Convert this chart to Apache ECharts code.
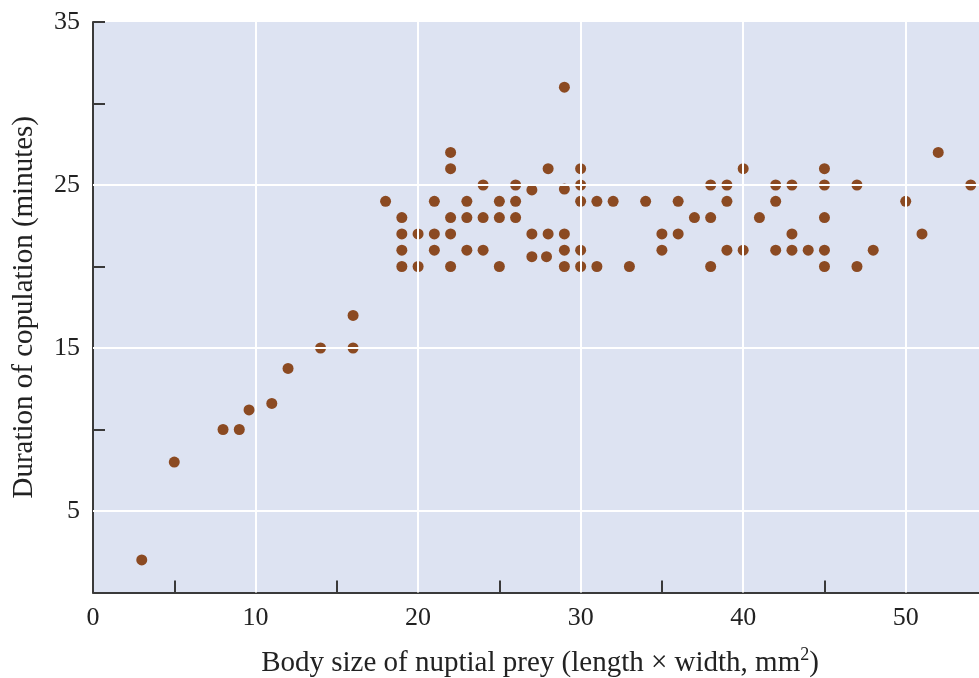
<!DOCTYPE html>
<html>
<head>
<meta charset="utf-8">
<script src="https://cdn.jsdelivr.net/npm/echarts@6/dist/echarts.min.js"></script>
<style>
html,body{margin:0;padding:0;background:#fff;}
#c{width:979px;height:678px;}
</style>
</head>
<body>
<div id="c"></div>
<script>
// Body size of nuptial prey (mm^2)
var preySize = [3,5,8,9,9.6,11,12,14,16,16,
  18,19,19,19,19,20,20,21,21,21,22,22,22,22,22,
  23,23,23,24,24,24,25,25,25,26,26,26,27,27,27,
  28,28,27.9,29,29,29,29,29,30,30,30,30,30,31,31,32,33,34,
  35,35,36,36,37,38,38,38,39,39,39,40,40,41,42,42,42,
  43,43,43,44,45,45,45,45,45,47,47,48,50,51,52,54];
// Duration of copulation (minutes)
var duration = [2,8,10,10,11.2,11.6,13.75,15,15,17,
  24,23,22,21,20,22,20,24,22,21,27,26,23,22,20,
  24,23,21,25,23,21,24,23,20,25,24,23,24.7,22,20.6,
  26,22,20.6,31,24.75,22,21,20,26,25,24,21,20,24,20,24,20,24,
  22,21,24,22,23,25,23,20,25,24,21,26,21,23,25,24,21,
  25,22,21,21,26,25,23,21,20,25,20,21,24,22,27,25];
var xTicks = [0,10,20,30,40,50];
var yTicks = [5,15,25,35];
var xGrid = [10,20,30,40,50];
var yGrid = [5,15,25];

var pts = preySize.map(function(x,i){return [x,duration[i]];});
var FONT = '"Liberation Serif","DejaVu Serif",serif';
var gridLines = xGrid.map(function(v){return {xAxis:v};})
  .concat(yGrid.map(function(v){return {yAxis:v};}));

var chart = echarts.init(document.getElementById('c'));
chart.setOption({
  animation:false,
  grid:{left:93,top:22,right:-8,bottom:85.5,show:true,backgroundColor:'#dde3f2',borderWidth:0,
    containLabel:false,outerBoundsMode:'none'},
  xAxis:{type:'value',min:0,max:55,interval:5,
    axisLine:{lineStyle:{color:'#3a3a3a',width:2}},
    axisTick:{inside:true,length:12,lineStyle:{color:'#3a3a3a',width:2}},
    splitLine:{show:false},
    axisLabel:{margin:13,color:'#222',fontFamily:FONT,fontSize:26,
      formatter:function(v){return xTicks.indexOf(v)>=0?String(v):'';}},
    name:'Body size of nuptial prey (length \u00d7 width, mm{sup|2})',
    nameLocation:'middle',nameGap:54,
    nameTextStyle:{color:'#222',fontFamily:FONT,fontSize:29,
      rich:{sup:{fontSize:18,verticalAlign:'top',padding:[0,0,15,0],color:'#222',fontFamily:FONT}}}
  },
  yAxis:{type:'value',min:0,max:35,interval:5,
    axisLine:{lineStyle:{color:'#3a3a3a',width:2}},
    axisTick:{inside:true,length:12,lineStyle:{color:'#3a3a3a',width:2}},
    splitLine:{show:false},
    axisLabel:{margin:13,color:'#222',fontFamily:FONT,fontSize:26,
      formatter:function(v){return yTicks.indexOf(v)>=0?String(v):'';}},
    name:'Duration of copulation (minutes)',
    nameLocation:'middle',nameGap:54,
    nameTextStyle:{color:'#222',fontFamily:FONT,fontSize:29}
  },
  series:[
    {type:'scatter',data:[],z:1,silent:true,
      markLine:{silent:true,symbol:'none',label:{show:false},
        lineStyle:{color:'#ffffff',width:2,type:'solid'},data:gridLines}},
    {type:'scatter',data:pts,symbolSize:11,z:3,
      itemStyle:{color:'#8b4a22',opacity:1}}
  ]
});
</script>
</body>
</html>
